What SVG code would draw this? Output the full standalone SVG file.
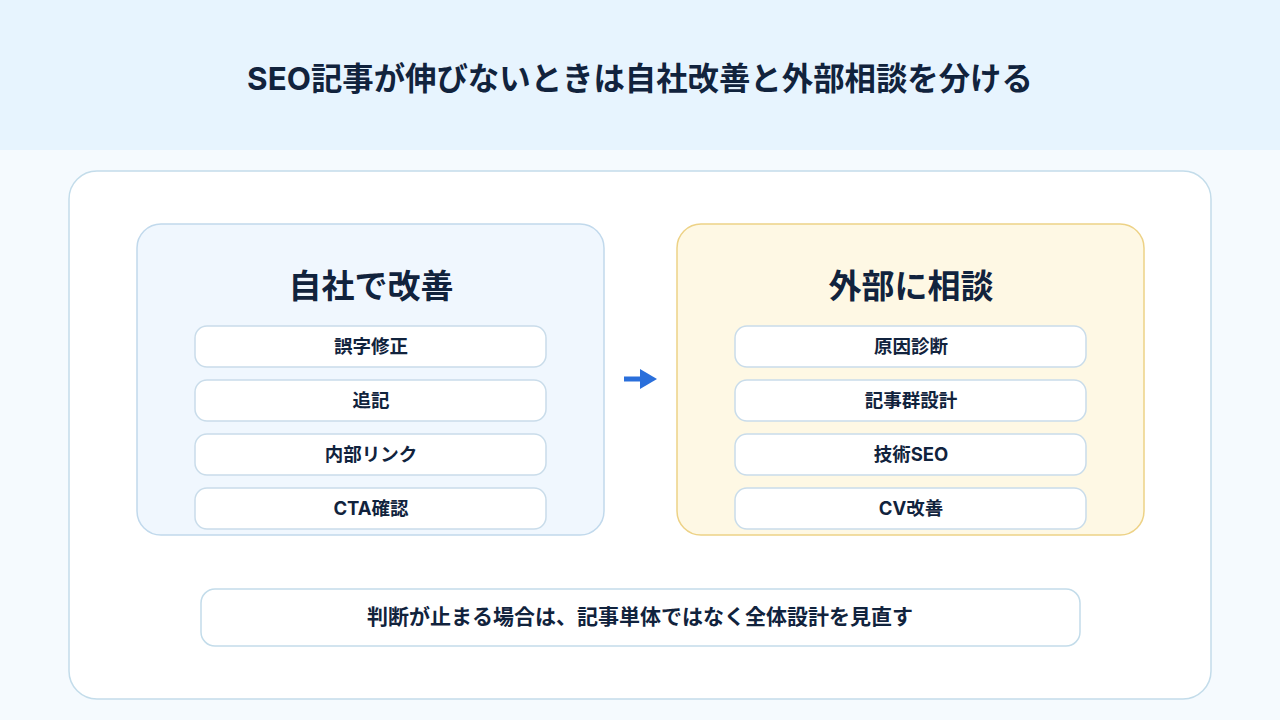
<svg xmlns="http://www.w3.org/2000/svg" width="1280" height="720" viewBox="0 0 1280 720">
<defs>
<style>
text{font-family:Inter,"Noto Sans CJK JP",sans-serif;fill:#11233d;text-anchor:middle;font-weight:700}
.item{fill:#fff;stroke:#c9dcea;stroke-width:1.5}
.it{font-size:18.5px}
</style>
</defs>
<rect width="1280" height="720" fill="#f5fafe"/>
<rect width="1280" height="150" fill="#e7f4fe"/>
<text x="640" y="90" font-size="31.4">SEO記事が伸びないときは自社改善と外部相談を分ける</text>
<rect x="69" y="171" width="1142" height="528" rx="28" fill="#fff" stroke="#c3dcea" stroke-width="1.5"/>
<g id="self">
<rect x="137" y="224" width="467" height="311" rx="24" fill="#f0f7fe" stroke="#c1d9ec" stroke-width="1.5"/>
<text x="371" y="298" font-size="33">自社で改善</text>
<rect class="item" x="195" y="326" width="351" height="41" rx="12"/><text class="it" x="371" y="353">誤字修正</text>
<rect class="item" x="195" y="380" width="351" height="41" rx="12"/><text class="it" x="371" y="407">追記</text>
<rect class="item" x="195" y="434" width="351" height="41" rx="12"/><text class="it" x="371" y="461">内部リンク</text>
<rect class="item" x="195" y="488" width="351" height="41" rx="12"/><text class="it" x="371" y="515">CTA確認</text>
</g>
<g id="external">
<rect x="677" y="224" width="467" height="311" rx="24" fill="#fef8e4" stroke="#edd286" stroke-width="1.5"/>
<text x="911" y="298" font-size="33">外部に相談</text>
<rect class="item" x="735" y="326" width="351" height="41" rx="12"/><text class="it" x="911" y="353">原因診断</text>
<rect class="item" x="735" y="380" width="351" height="41" rx="12"/><text class="it" x="911" y="407">記事群設計</text>
<rect class="item" x="735" y="434" width="351" height="41" rx="12"/><text class="it" x="911" y="461">技術SEO</text>
<rect class="item" x="735" y="488" width="351" height="41" rx="12"/><text class="it" x="911" y="515">CV改善</text>
</g>
<g id="connectors">
<line x1="624" y1="379" x2="640" y2="379" stroke="#2a6fdb" stroke-width="5"/>
<path d="M640,369L657,379L640,389Z" fill="#2a6fdb"/>
</g>
<g id="note">
<rect x="201" y="589" width="879" height="57" rx="14" fill="#fff" stroke="#c3dcea" stroke-width="1.5"/>
<text x="640" y="624" font-size="21">判断が止まる場合は、記事単体ではなく全体設計を見直す</text>
</g>
</svg>
